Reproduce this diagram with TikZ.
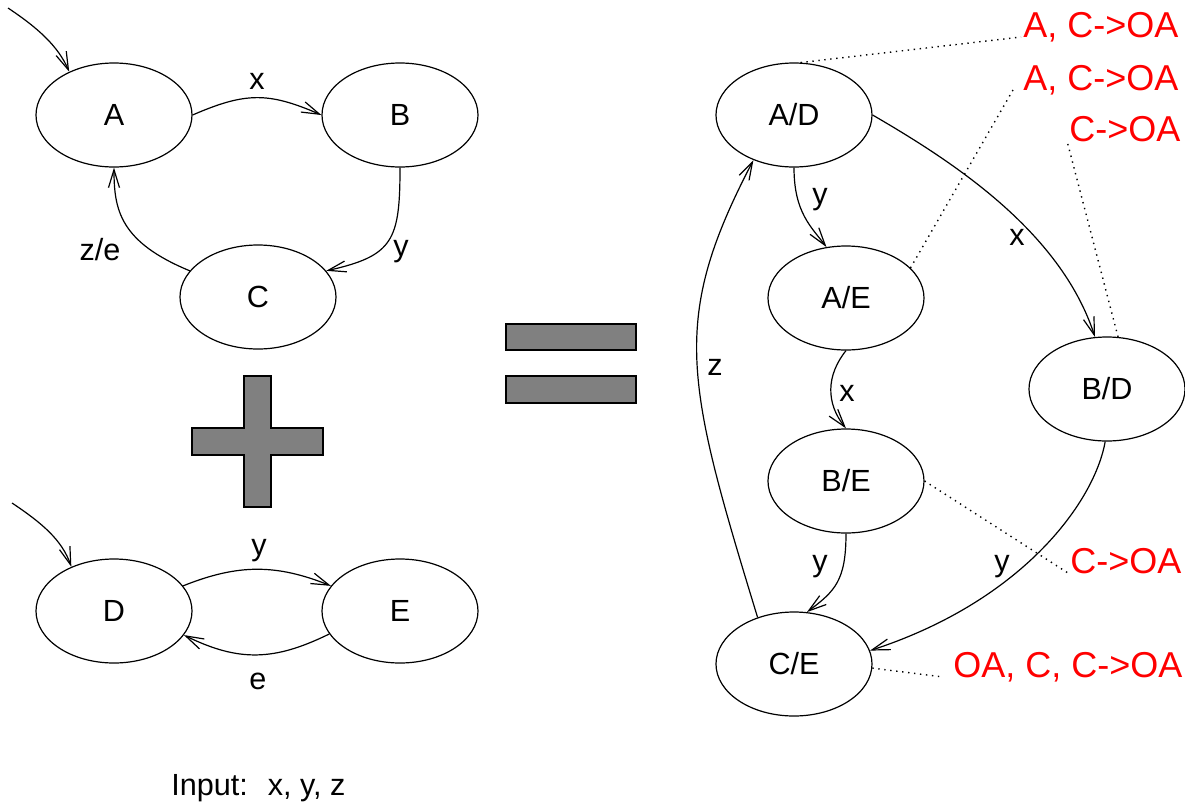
\documentclass[tikz,border=0pt]{standalone}
\usepackage{fontspec}
\setmainfont{Liberation Sans}
\usetikzlibrary{shapes.geometric,arrows.meta}
\begin{document}
\begin{tikzpicture}[x=0.5pt,y=-0.5pt,
  st/.style={ellipse,draw,line width=0.6pt,minimum width=78pt,minimum height=52pt,inner sep=0pt,font=\fontsize{15.3}{18}\selectfont},
  lbl/.style={inner sep=0pt,font=\fontsize{15.3}{18}\selectfont},
  ann/.style={text=red,inner sep=1pt,anchor=base west,font=\fontsize{18}{21}\selectfont},
  tr/.style={line width=0.6pt,-{Straight Barb[length=9pt,width=5.5pt]}},
  dots/.style={line width=0.7pt,dash pattern=on 0.7pt off 2.3pt},
  bar/.style={fill=gray,draw=black,line width=0.6pt}]
\useasboundingbox (0,0) rectangle (1185,804);

% left automata
\node[st] (A) at (114,115) {A};
\node[st] (B) at (400,115) {B};
\node[st] (C) at (258,297) {C};
\node[st] (D) at (114,611) {D};
\node[st] (E) at (400,611) {E};
\coordinate (iA) at (8,8);
\coordinate (iD) at (12,503);

\draw[tr] (iA) .. controls (38,28) and (58,46) .. (A.136);
\draw[tr] (A.east) .. controls +(53,-23) and +(-53,-23) .. (B.west);
\draw[tr] (B.south) .. controls +(0,73) and +(67,-15) .. (C.21);
\draw[tr] (C.159) .. controls (120,242) and (114,210) .. (A.south);
\draw[tr] (iD) .. controls (42,523) and (62,540) .. (D.134);
\draw[tr] (D.20) .. controls +(55,-22) and +(-55,-22) .. (E.160);
\draw[tr] (E.198) .. controls +(-55,27) and +(55,27) .. (D.341);

\node[lbl] (lx1) at (257,81) {x};
\node[lbl] (ly1) at (401,252) {y};
\node[lbl] (lze) at (100,250) {z/e};
\node[lbl] (ly2) at (259,551) {y};
\node[lbl] (le) at (258,681) {e};

% plus and equals
\draw[bar] (244,376) -- (271,376) -- (271,428) -- (323,428) -- (323,455) -- (271,455) -- (271,507) -- (244,507) -- (244,455) -- (192,455) -- (192,428) -- (244,428) -- cycle;
\draw[bar] (506,324) rectangle (636,350);
\draw[bar] (506,376) rectangle (636,403);

% product automaton
\node[st] (AD) at (794,115) {A/D};
\node[st] (AE) at (846,298) {A/E};
\node[st] (BD) at (1107,389) {B/D};
\node[st] (BE) at (846,481) {B/E};
\node[st] (CE) at (794,664) {C/E};

\draw[tr] (AD.south) .. controls +(0,45) and +(-15,-20) .. (AE.111);
\draw[tr] (AE.south) .. controls +(-20,25) and +(-20,-25) .. (BE.north);
\draw[tr] (BE.south) .. controls +(0,47) and +(28,-21) .. (CE.76);
\draw[tr] (AD.east) .. controls (950,160) and (1060,230) .. (BD.103);
\draw[tr] (BD.268) .. controls (1095,500) and (1025,600) .. (CE.10);
\draw[tr] (CE.128) .. controls (685,380) and (670,320) .. (AD.228);

\node[lbl] (ry1) at (820,200) {y};
\node[lbl] (rx1) at (1017,237) {x};
\node[lbl] (rx2) at (847,393) {x};
\node[lbl] (rz) at (715,367) {z};
\node[lbl] (ry2) at (820,567) {y};
\node[lbl] (ry3) at (1002,567) {y};

% annotations
\node[ann] (r1) at (1021,37) {A, C->OA};
\node[ann] (r2) at (1021,90) {A, C->OA};
\node[ann] (r3) at (1067,141) {C->OA};
\node[ann] (r4) at (1068,573) {C->OA};
\node[ann] (r5) at (951,677) {OA, C, C->OA};

\draw[dots] (AD.83) -- (r1.base west);
\draw[dots] (AE.25) -- ([xshift=-4pt]r2.base west);
\draw[dots] (BD.78) -- (r3.base west);
\draw[dots] (BE.east) -- (r4.base west);
\draw[dots] (CE.-3) -- ([xshift=-4pt]r5.base west);

\node[lbl,anchor=base west] (inp) at (171,795) {Input:~ x, y, z};
\end{tikzpicture}
\end{document}
